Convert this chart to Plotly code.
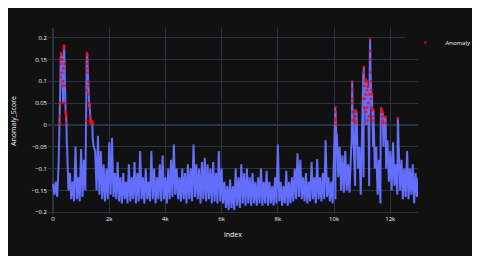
import plotly.graph_objects as go

# Noise envelope: upper value at index k*100, lower value at k*100+50
upper = [
    -0.135, -0.13, -0.09, 0.16, 0.18, -0.05, -0.11, -0.13, -0.05, -0.12,
    -0.055, -0.08, 0.15, 0.05, 0.008, -0.06, -0.025, -0.06, -0.09, -0.10,
    -0.04, -0.03, -0.11, -0.085, -0.12, -0.11, -0.13, -0.09, -0.12, -0.085,
    -0.11, -0.06, -0.12, -0.10, -0.13, -0.06, -0.10, -0.12, -0.09, -0.07,
    -0.12, -0.10, -0.08, -0.045, -0.10, -0.12, -0.10, -0.11, -0.09, -0.10,
    -0.045, -0.09, -0.10, -0.085, -0.075, -0.09, -0.10, -0.085, -0.11, -0.06,
    -0.10, -0.13, -0.14, -0.125, -0.14, -0.10, -0.12, -0.09, -0.11, -0.10,
    -0.12, -0.11, -0.13, -0.12, -0.10, -0.13, -0.105, -0.13, -0.14, -0.12,
    -0.045, -0.13, -0.14, -0.105, -0.13, -0.12, -0.10, -0.065, -0.08, -0.12,
    -0.11, -0.13, -0.085, -0.12, -0.078, -0.12, -0.11, -0.035, -0.12, -0.13,
    -0.06, -0.02, -0.05, -0.07, -0.06, -0.09, -0.07, -0.05, 0.03, -0.05,
    -0.02, 0.105, 0.088, 0.12, 0.035, -0.05, -0.08, 0.03, 0.019, -0.035,
    -0.06, -0.04, -0.09, -0.05, -0.08, -0.10, -0.06, -0.10, -0.09, -0.11,
    -0.12,
]
lower = [
    -0.16, -0.165, 0.005, 0.10, 0.03, -0.15, -0.17, -0.175, -0.17, -0.175,
    -0.165, -0.15, 0.09, 0.005, -0.05, -0.15, -0.16, -0.17, -0.175, -0.17,
    -0.16, -0.165, -0.17, -0.175, -0.18, -0.17, -0.18, -0.175, -0.17, -0.18,
    -0.175, -0.17, -0.18, -0.17, -0.175, -0.17, -0.18, -0.17, -0.175, -0.17,
    -0.18, -0.17, -0.165, -0.16, -0.17, -0.175, -0.17, -0.18, -0.17, -0.175,
    -0.165, -0.17, -0.18, -0.17, -0.175, -0.17, -0.18, -0.175, -0.18, -0.175,
    -0.18, -0.19, -0.195, -0.19, -0.195, -0.185, -0.19, -0.18, -0.185, -0.18,
    -0.185, -0.18, -0.185, -0.18, -0.185, -0.18, -0.185, -0.18, -0.185, -0.18,
    -0.175, -0.185, -0.18, -0.185, -0.18, -0.175, -0.17, -0.165, -0.17, -0.175,
    -0.18, -0.175, -0.17, -0.18, -0.17, -0.175, -0.17, -0.165, -0.175, -0.18,
    -0.17, -0.12, -0.15, -0.155, -0.15, -0.155, 0.08, -0.14, -0.10, -0.16,
    -0.12, 0.0, -0.14, 0.07, -0.10, -0.16, -0.18, 0.0, -0.10, -0.13,
    -0.15, -0.14, -0.16, -0.15, -0.17, -0.165, -0.17, -0.16, -0.18, -0.165,
]

# Finer detail inside the anomalous peaks
peak_index = [
    235, 245, 255, 265, 275, 285, 295, 310, 320, 330, 340, 360, 370, 380, 390,
    410, 420, 430, 440, 460, 470, 480, 490,
    1160, 1170, 1180, 1190, 1210, 1220, 1230, 1240, 1260, 1270, 1280, 1290,
    1310, 1320, 1330, 1340, 1360, 1370, 1380, 1390, 1410,
    10030, 10040, 10045, 10055, 10060, 10070, 10080,
    10630, 10640, 10645, 10655, 10660, 10665, 10675,
    10750, 10760, 10770, 10780,
    11010, 11030, 11040, 11060, 11070, 11080, 11090, 11110, 11120, 11130,
    11140, 11160, 11170, 11180, 11190, 11210, 11220, 11230, 11240, 11260,
    11270, 11280, 11290, 11310, 11320, 11330, 11340, 11360, 11370, 11380, 11390,
    11660, 11670, 11680, 11690, 11710, 11720, 11730, 11740, 11760,
    11820, 11830, 11840,
    12260, 12270, 12280,
]
peak_score = [
    0.004, 0.02, 0.05, 0.11, 0.15, 0.165, 0.14, 0.16, 0.12, 0.15, 0.09, 0.05, 0.13, 0.175, 0.182,
    0.14, 0.09, 0.05, 0.03, 0.025, 0.02, 0.005, -0.04,
    -0.03, 0.01, 0.08, 0.13, 0.165, 0.16, 0.14, 0.12, 0.10, 0.07, 0.05, 0.04,
    0.02, 0.01, 0.008, 0.005, 0.01, 0.008, 0.006, 0.004, -0.03,
    -0.02, 0.01, 0.041, 0.03, 0.015, 0.002, -0.03,
    -0.03, 0.05, 0.10, 0.06, 0.03, 0.01, -0.05,
    0.01, 0.035, 0.02, 0.005,
    0.0, 0.06, 0.12, 0.133, 0.09, 0.04, 0.06, 0.10, 0.105, 0.07,
    0.03, 0.10, 0.08, 0.04, 0.01, 0.088, 0.05, -0.14, 0.02, 0.07,
    0.15, 0.197, 0.17, 0.10, 0.06, 0.08, 0.04, 0.02, 0.035, 0.01, -0.05,
    0.0, 0.039, 0.03, 0.035, 0.02, 0.01, 0.03, 0.005, -0.05,
    0.0, 0.019, 0.005,
    0.0, 0.016, 0.0,
]

points = []
for k, v in enumerate(upper):
    points.append((k * 100, v))
for k, v in enumerate(lower):
    points.append((k * 100 + 50, v))
points += list(zip(peak_index, peak_score))
points.sort()
index = [p[0] for p in points]
score = [p[1] for p in points]

anom_x = [i for i, s in zip(index, score) if s > 0]
anom_y = [s for s in score if s > 0]

fig = go.Figure()
fig.add_trace(go.Scatter(x=index, y=score, mode="lines", showlegend=False,
                         line=dict(color="#636efa", width=2)))
fig.add_trace(go.Scatter(x=anom_x, y=anom_y, mode="markers", name="Anomaly",
                         marker=dict(color="red", size=3, opacity=0.75)))
fig.update_layout(
    template="plotly_dark",
    width=472, height=248,
    margin=dict(l=40, r=62, t=20, b=42, autoexpand=False),
    font=dict(size=6),
    legend=dict(x=0.966, y=1.0, xanchor="left", yanchor="top", font=dict(size=6)),
    xaxis=dict(title=dict(text="index", standoff=10, font=dict(size=7)),
               range=[-178, 12987], dtick=2000),
    yaxis=dict(title=dict(text="Anomaly_Score", standoff=14, font=dict(size=7)),
               range=[-0.204, 0.222], dtick=0.05),
)
fig.write_html("out.html")
